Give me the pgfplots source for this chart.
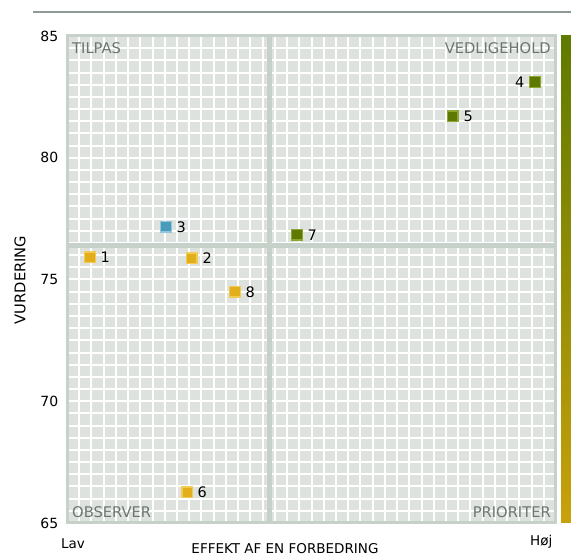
\documentclass[border=0pt]{standalone}
\usepackage{pgfplots}
\pgfplotsset{compat=1.18}
\usepackage{fontspec}
\setmainfont{DejaVu Sans}
\definecolor{bgcol}{HTML}{DDE2DF}
\definecolor{framecol}{HTML}{C6D1C9}
\definecolor{qtext}{HTML}{6B7670}
\definecolor{goldf}{HTML}{E3AE1B}
\definecolor{goldb}{HTML}{F2CB55}
\definecolor{greenf}{HTML}{5E7900}
\definecolor{greenb}{HTML}{8EA632}
\definecolor{bluef}{HTML}{4A9BBA}
\definecolor{blueb}{HTML}{92C6DA}
\definecolor{topline}{HTML}{8E9A95}
\definecolor{bartop}{HTML}{5E7A00}
\definecolor{barbot}{HTML}{C9A10A}
\begin{document}
\fontsize{13.5}{16}\selectfont
\begin{tikzpicture}
\path[use as bounding box] (0,0) rectangle (571pt,556pt);
\draw[topline, line width=1.5pt] (33pt,544pt) -- (571pt,544pt);
\shade[top color=bartop, bottom color=barbot] (561pt,33pt) rectangle (571pt,520pt);
\begin{axis}[
  at={(67pt,33pt)}, anchor=south west,
  scale only axis, width=489pt, height=487pt,
  xmin=0, xmax=40, ymin=65, ymax=85,
  xtick={0,1,...,40},
  xticklabels={},
  ytick={65,70,75,80,85},
  minor ytick={65,65.5,...,85},
  xmajorgrids, yminorgrids, ymajorgrids,
  grid style={white, line width=2pt},
  minor grid style={white, line width=2pt},
  major tick length=0pt, minor tick length=0pt,
  axis line style={framecol, line width=3pt},
  axis background/.style={fill=bgcol},
  /pgf/number format/assume math mode=true,
  yticklabel style={font=\fontsize{14}{16}\selectfont, xshift=-4pt},
  clip=false,
]
\draw[framecol, line width=5pt] (axis cs:16.6,65) -- (axis cs:16.6,85);
\draw[framecol, line width=5pt] (axis cs:0,76.4) -- (axis cs:40,76.4);
\begin{scope}[every node/.style={text=qtext, inner sep=0pt, font=\fontsize{14.7}{17}\selectfont}]
\node[anchor=north west] at ([xshift=5pt,yshift=-6pt]rel axis cs:0,1) {TILPAS};
\node[anchor=north east] at ([xshift=-5pt,yshift=-6pt]rel axis cs:1,1) {VEDLIGEHOLD};
\node[anchor=south west] at ([xshift=5pt,yshift=5pt]rel axis cs:0,0) {OBSERVER};
\node[anchor=south east] at ([xshift=-5pt,yshift=5pt]rel axis cs:1,0) {PRIORITER};
\end{scope}
\pgfplotsset{
  gold/.style={only marks, mark=square*, mark size=5.2pt, mark options={fill=goldf, draw=goldb, line width=1.3pt}},
  green/.style={only marks, mark=square*, mark size=5.2pt, mark options={fill=greenf, draw=greenb, line width=1.3pt}},
  blue/.style={only marks, mark=square*, mark size=5.2pt, mark options={fill=bluef, draw=blueb, line width=1.3pt}},
}
\tikzset{lbl/.style={font=\fontsize{14.5}{17}\selectfont}}
\addplot[gold] coordinates {(1.88,75.92)} node[lbl, anchor=west, xshift=6pt] {1};
\addplot[gold] coordinates {(10.22,75.88)} node[lbl, anchor=west, xshift=6pt] {2};
\addplot[blue] coordinates {(8.10,77.16)} node[lbl, anchor=west, xshift=6pt] {3};
\addplot[green] coordinates {(38.28,83.11)} node[lbl, anchor=east, xshift=-6pt] {4};
\addplot[green] coordinates {(31.57,81.71)} node[lbl, anchor=west, xshift=6pt] {5};
\addplot[gold] coordinates {(9.82,66.27)} node[lbl, anchor=west, xshift=6pt] {6};
\addplot[green] coordinates {(18.81,76.83)} node[lbl, anchor=west, xshift=6pt] {7};
\addplot[gold] coordinates {(13.74,74.49)} node[lbl, anchor=west, xshift=6pt] {8};
\end{axis}
\node[rotate=90, font=\fontsize{14.7}{17}\selectfont] at (20pt,276pt) {VURDERING};
\node at (73pt,12pt) {Lav};
\node[anchor=east] at (557pt,14pt) {Høj};
\node[anchor=south, inner sep=0pt] at (285pt,2pt) {EFFEKT AF EN FORBEDRING};
\end{tikzpicture}
\end{document}
